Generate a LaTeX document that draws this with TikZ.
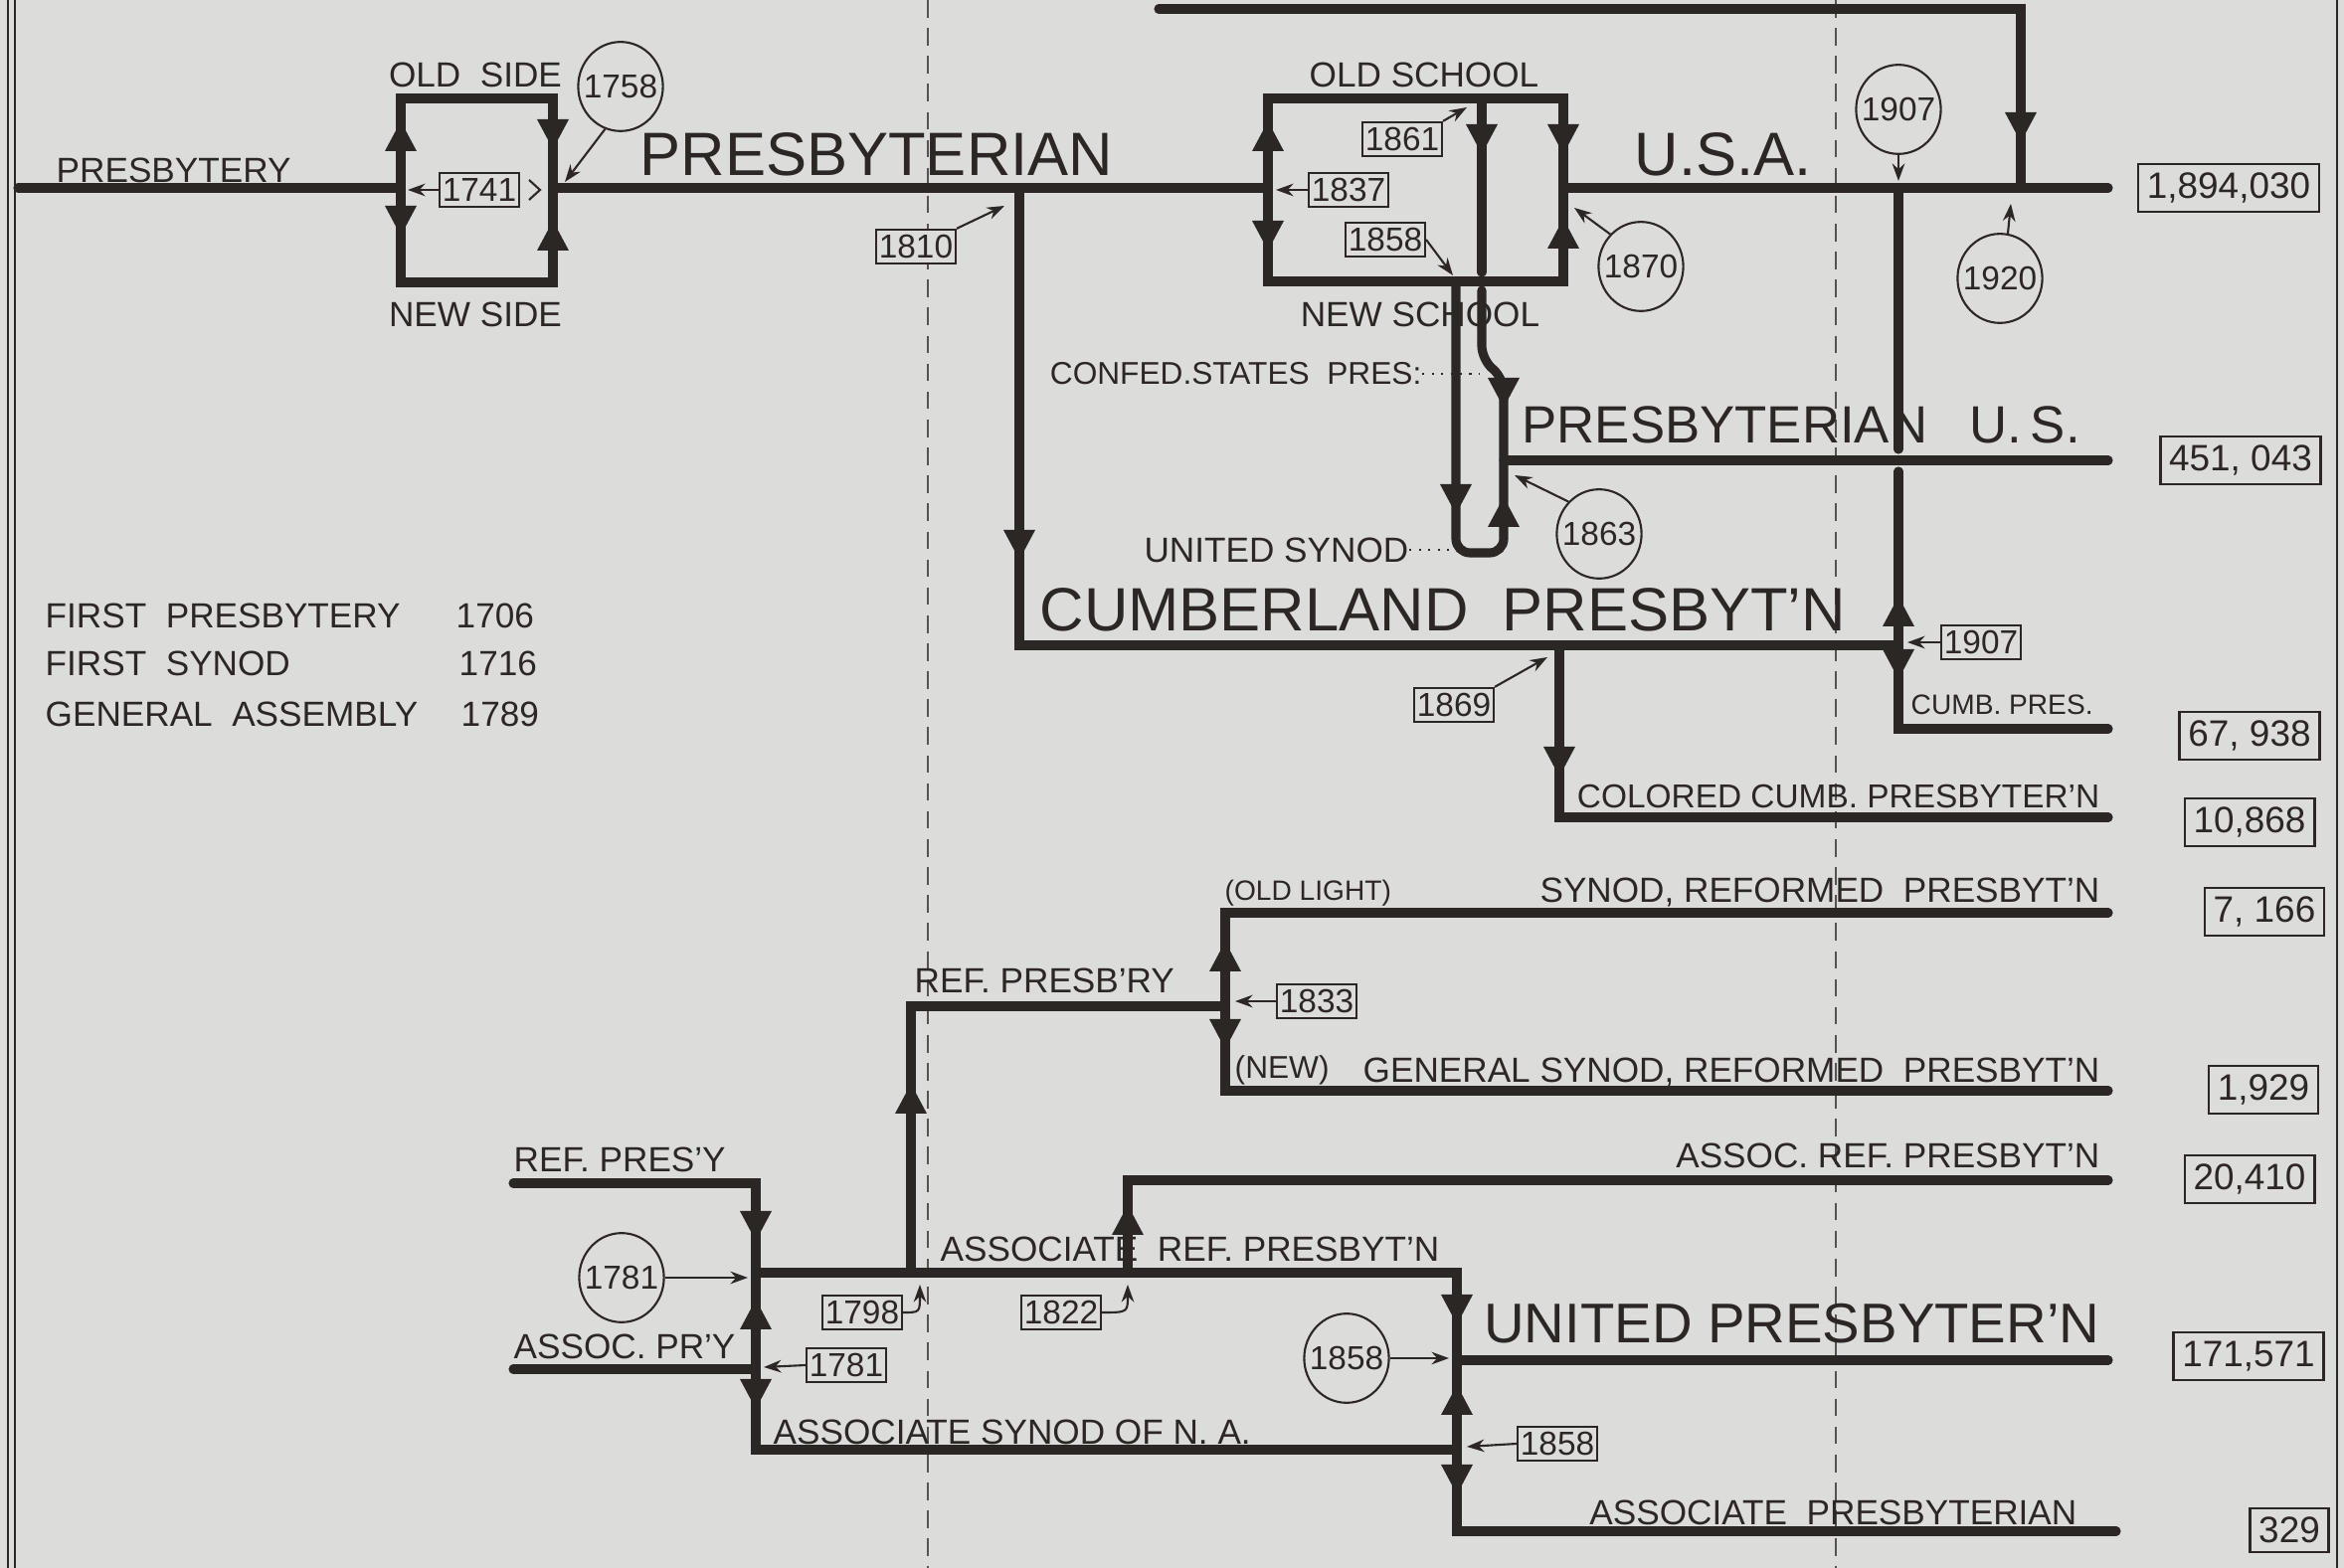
\documentclass[tikz,border=0pt]{standalone}
\usepackage{fontspec}
\setmainfont{Liberation Sans}
\usetikzlibrary{arrows.meta, calc, positioning, shapes.geometric}
\definecolor{paper}{HTML}{DCDDDA}
\definecolor{ink}{HTML}{2B2724}
% solid heads sitting on a branch, tip at #1
\newcommand{\tipup}[1]{\fill[ink] #1 -- ++(-16,30) -- ++(32,0) -- cycle;}
\newcommand{\tipdn}[1]{\fill[ink] #1 -- ++(-16,-30) -- ++(32,0) -- cycle;}

\begin{document}
\begin{tikzpicture}[x=0.01cm, y=-0.01cm,
  every node/.style={text=ink},
  branch/.style={draw=ink, line width=2.6pt, line cap=round},
  ptr/.style={draw=ink, line width=0.6pt, -{Stealth[length=5pt, width=3.6pt]}},
  leader/.style={draw=ink, line width=0.7pt, dotted},
  decade/.style={draw=ink!80, line width=0.5pt, dash pattern=on 5pt off 3pt},
  big/.style={inner sep=0pt, font=\fontsize{17.5}{20}\selectfont},
  mid/.style={inner sep=0pt, font=\fontsize{10}{12}\selectfont},
  sml/.style={inner sep=0pt, font=\fontsize{8}{10}\selectfont},
  yearbox/.style={draw=ink, fill=paper, line width=0.6pt, inner xsep=0.8pt, inner ysep=1.5pt, font=\fontsize{9.5}{10}\selectfont},
  yearring/.style={draw=ink, fill=paper, line width=0.6pt, ellipse, inner sep=-2pt, minimum width=22pt, minimum height=25.5pt, font=\fontsize{9.5}{10}\selectfont},
  total/.style={draw=ink, line width=0.7pt, inner xsep=2.5pt, inner ysep=2.5pt, font=\fontsize{10.5}{12}\selectfont}]
\useasboundingbox (0,0) rectangle (2357,1577);
\fill[paper] (0,0) rectangle (2357,1577);
\draw[ink, line width=0.5pt] (8,0) -- (8,1577) (15,0) -- (15,1577) (2350,0) -- (2350,1577);
\draw[decade] (933,0) -- (933,1577);
\draw[decade] (1846,0) -- (1846,1577);

% main stem, old side / new side
\draw[branch] (18,189) -- (403,189);
\draw[branch] (403,189) -- (403,99) -- (556,99) -- (556,189);
\draw[branch] (403,189) -- (403,284) -- (556,284) -- (556,189);
\draw[branch] (556,189) -- (1275,189);
\tipup{(403,122)} \tipdn{(556,150)} \tipdn{(403,237)} \tipup{(556,222)}
% old school / new school
\draw[branch] (1275,189) -- (1275,99) -- (1572,99) -- (1572,189);
\draw[branch] (1275,189) -- (1275,283) -- (1572,283) -- (1572,189);
\draw[branch] (1572,189) -- (2120,189);
\draw[branch] (1165,9) -- (2032,9) -- (2032,189);
\tipup{(1275,122)} \tipdn{(1275,252)} \tipdn{(1572,155)} \tipup{(1572,220)}
\tipdn{(2032,143)}
% southern churches
\draw[branch] (1490,99) -- (1490,274);
\draw[branch, rounded corners=4pt] (1490,292) -- (1490,362) -- (1512,380) -- (1512,556) -- (1464,556) -- (1464,283);
\draw[branch] (1512,463) -- (2120,463);
\tipdn{(1490,155)} \tipdn{(1512,410)} \tipdn{(1464,517)} \tipup{(1512,500)}
% cumberland
\draw[branch] (1025,189) -- (1025,649) -- (1909,649);
\draw[branch] (1568,649) -- (1568,822) -- (2120,822);
\draw[branch] (1909,189) -- (1909,452);
\draw[branch] (1909,474) -- (1909,733) -- (2120,733);
\tipdn{(1025,563)} \tipdn{(1568,781)} \tipup{(1909,600)} \tipdn{(1909,683)}
% reformed and associate lines
\draw[branch] (516,1190) -- (760,1190) -- (760,1458) -- (1465,1458);
\draw[branch] (516,1377) -- (760,1377);
\draw[branch] (760,1280) -- (1465,1280) -- (1465,1540) -- (2128,1540);
\draw[branch] (1465,1368) -- (2120,1368);
\draw[branch] (916,1280) -- (916,1012) -- (1232,1012);
\draw[branch] (2120,918) -- (1232,918) -- (1232,1097) -- (2120,1097);
\draw[branch] (1134,1280) -- (1134,1187) -- (2120,1187);
\tipdn{(760,1248)} \tipup{(760,1307)} \tipdn{(760,1417)}
\tipup{(916,1090)} \tipup{(1232,947)} \tipdn{(1232,1055)} \tipup{(1134,1212)}
\tipdn{(1465,1332)} \tipup{(1465,1393)} \tipdn{(1465,1503)}

% names of the bodies
\node[mid, anchor=west] (presbytery) at (56,171) {PRESBYTERY};
\node[mid] (oldside) at (478,75) {OLD\ \ SIDE};
\node[mid] (newside) at (478,316) {NEW SIDE};
\node[big, anchor=west] (presb) at (643,155) {PRESBYTERIAN};
\node[mid] (oldschool) at (1432,75) {OLD SCHOOL};
\node[mid] (newschool) at (1428,316) {NEW SCHOOL};
\node[big, anchor=west] (usa) at (1643,155) {U.S.A.};
\node[mid, font=\fontsize{9}{11}\selectfont, anchor=east] (confed) at (1430,376) {CONFED.STATES\ \ PRES:};
\node[mid, anchor=east] (unsynod) at (1417,553) {UNITED SYNOD};
\node[big, font=\fontsize{15}{18}\selectfont, anchor=west] (pcus) at (1530,427) {PRESBYTERIAN\hspace{0.8em}U.\,S.};
\node[big, anchor=west] (cumb) at (1045,613) {CUMBERLAND\ \ PRESBYT'N};
\node[sml, anchor=west] (cumbpres) at (1921,709) {CUMB. PRES.};
\node[mid, font=\fontsize{9.5}{11}\selectfont, anchor=east] (colored) at (2112,801) {COLORED CUMB. PRESBYTER'N};
\node[sml, anchor=west] (oldlight) at (1231,898) {(OLD LIGHT)};
\node[mid, anchor=east] (synodref) at (2112,897) {SYNOD, REFORMED\ \ PRESBYT'N};
\node[mid, anchor=west] (refpresbry) at (919,986) {REF.\ PRESB'RY};
\node[sml, font=\fontsize{9}{10}\selectfont, anchor=west] (newlight) at (1241,1076) {(NEW)};
\node[mid, anchor=east] (gensynod) at (2112,1078) {GENERAL SYNOD, REFORMED\ \ PRESBYT'N};
\node[mid, anchor=east] (assocref) at (2112,1162) {ASSOC.\ REF.\ PRESBYT'N};
\node[mid, anchor=west] (refpresy) at (516,1166) {REF.\ PRES'Y};
\node[mid, anchor=west] (associateref) at (945,1256) {ASSOCIATE\ \ REF.\ PRESBYT'N};
\node[mid, anchor=west] (assocpry) at (516,1354) {ASSOC.\ PR'Y};
\node[big, font=\fontsize{16}{18}\selectfont, anchor=east] (united) at (2112,1331) {UNITED PRESBYTER'N};
\node[mid, anchor=west] (assocsynod) at (777,1440) {ASSOCIATE SYNOD OF N.\ A.};
\node[mid, anchor=east] (assocpresb) at (2089,1521) {ASSOCIATE\ \ PRESBYTERIAN};
\draw[leader] (confed.east) -- (1487,376);
\draw[leader] (unsynod.east) -- (1460,553);

% dates of founding
\node[mid, anchor=west] (firstpresb) at (45,619) {FIRST\ \ PRESBYTERY};
\node[mid, anchor=west] (firstsynod) at (45,667) {FIRST\ \ SYNOD};
\node[mid, anchor=west] (genassembly) at (45,718) {GENERAL\ \ ASSEMBLY};
\node[mid, anchor=west] (y1706) at (458,619) {1706};
\node[mid, anchor=west] (y1716) at (461,667) {1716};
\node[mid, anchor=west] (y1789) at (463,718) {1789};

% years of division and union
\coordinate (t1741) at (410,191);
\coordinate (t1758) at (568,183);
\coordinate (t1810) at (1010,207);
\coordinate (t1837) at (1283,191);
\coordinate (t1861) at (1475,108);
\coordinate (t1858a) at (1461,277);
\coordinate (t1870) at (1583,209);
\coordinate (t1907a) at (1909,182);
\coordinate (t1920) at (2022,205);
\coordinate (t1863) at (1523,478);
\coordinate (t1869) at (1556,661);
\coordinate (t1907b) at (1918,646);
\coordinate (t1833) at (1242,1007);
\coordinate (t1781a) at (752,1285);
\coordinate (t1781b) at (768,1375);
\coordinate (t1798) at (925,1292);
\coordinate (t1822) at (1134,1292);
\coordinate (t1858b) at (1457,1366);
\coordinate (t1858c) at (1475,1455);

\node[yearbox] (n1741) at (482,191) {1741};
\draw[ptr] (n1741.west) -- (t1741);
\draw[ink, line width=0.6pt] (532,181) -- (543,191) -- (532,201);
\node[yearring] (n1758) at (624,87) {1758};
\draw[ptr] (n1758.250) -- (t1758);
\node[yearbox] (n1810) at (921,248) {1810};
\draw[ptr] (n1810.north east) -- (t1810);
\node[yearbox] (n1837) at (1356,191) {1837};
\draw[ptr] (n1837.west) -- (t1837);
\node[yearbox] (n1861) at (1410,140) {1861};
\draw[ptr] (n1861.north east) -- (t1861);
\node[yearbox] (n1858a) at (1393,241) {1858};
\draw[ptr] (n1858a.east) -- (t1858a);
\node[yearring] (n1870) at (1650,268) {1870};
\draw[ptr] (n1870.north west) -- (t1870);
\node[yearring] (n1907a) at (1909,110) {1907};
\draw[ptr] (n1907a.south) -- (t1907a);
\node[yearring] (n1920) at (2011,280) {1920};
\draw[ptr] (n1920.80) -- (t1920);
\node[yearring] (n1863) at (1608,537) {1863};
\draw[ptr] (n1863.north west) -- (t1863);
\node[yearbox] (n1869) at (1462,709) {1869};
\draw[ptr] (n1869.north east) -- (t1869);
\node[yearbox] (n1907b) at (1992,646) {1907};
\draw[ptr] (n1907b.west) -- (t1907b);
\node[yearbox] (n1833) at (1324,1007) {1833};
\draw[ptr] (n1833.west) -- (t1833);
\node[yearring] (n1781a) at (625,1285) {1781};
\draw[ptr] (n1781a.east) -- (t1781a);
\node[yearbox] (n1781b) at (851,1373) {1781};
\draw[ptr] (n1781b.west) -- (t1781b);
\node[yearbox] (n1798) at (867,1320) {1798};
\draw[ptr] (n1798.east) .. controls (925,1320) .. (t1798);
\node[yearbox] (n1822) at (1067,1320) {1822};
\draw[ptr] (n1822.east) .. controls (1134,1320) .. (t1822);
\node[yearring] (n1858b) at (1354,1366) {1858};
\draw[ptr] (n1858b.east) -- (t1858b);
\node[yearbox] (n1858c) at (1566,1452) {1858};
\draw[ptr] (n1858c.west) -- (t1858c);

% members
\node[total] (m1) at (2241,189) {1,894,030};
\node[total] (m2) at (2253,463) {451, 043};
\node[total] (m3) at (2262,740) {67, 938};
\node[total] (m4) at (2262,827) {10,868};
\node[total] (m5) at (2277,917) {7, 166};
\node[total] (m6) at (2276,1096) {1,929};
\node[total] (m7) at (2262,1186) {20,410};
\node[total] (m8) at (2261,1364) {171,571};
\node[total] (m9) at (2302,1539) {329};
\end{tikzpicture}
\end{document}
